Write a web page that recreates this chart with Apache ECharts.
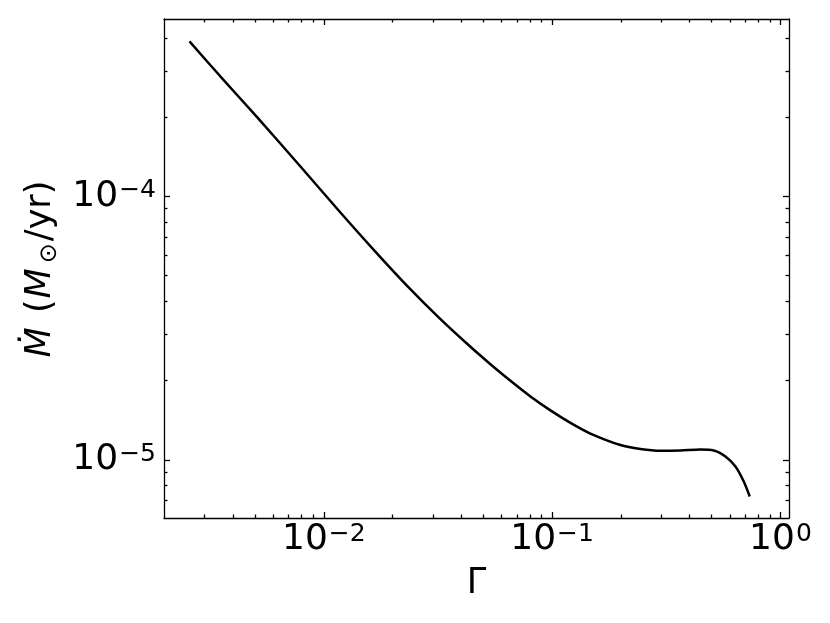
<!DOCTYPE html>
<html lang="en">

<head>
  <meta charset="UTF-8">
  <meta name="viewport" content="width=device-width, initial-scale=1.0">
  <script src="https://cdn.jsdelivr.net/npm/echarts@6.0.0/dist/echarts.min.js"></script>
  <style>
    body,
    html {
      margin: 0;
      padding: 0;
      width: 100%;
      height: 100%;
      background: #ffffff;
      overflow: hidden;
    }

    #main {
      width: 830px;
      height: 623px;
    }
  </style>
</head>

<body>
  <div id="main"></div>
  <script type="text/javascript">
    // Eddington factor vs mass-loss rate
    const gamma = [0.00258, 0.00352, 0.0051, 0.0079, 0.01182, 0.01654, 0.02317, 0.03242, 0.04386, 0.05366, 0.06567,
      0.08034, 0.09829, 0.1203, 0.1471, 0.1991, 0.2436, 0.298, 0.3648, 0.4462, 0.5104, 0.5742, 0.6353, 0.6907, 0.7336];
    const mdot = [3.88e-4, 2.86e-4, 2.0e-4, 1.30e-4, 8.69e-5, 6.27e-5, 4.575e-5, 3.42e-5, 2.686e-5, 2.307e-5, 1.995e-5,
      1.74e-5, 1.54e-5, 1.381e-5, 1.258e-5, 1.138e-5, 1.099e-5, 1.082e-5, 1.085e-5, 1.094e-5, 1.085e-5, 1.029e-5, 9.43e-6, 8.27e-6, 7.25e-6];

    const xMajor = [0.01, 0.1, 1];
    const xMinor = [0.003, 0.004, 0.005, 0.006, 0.007, 0.008, 0.009,
      0.02, 0.03, 0.04, 0.05, 0.06, 0.07, 0.08, 0.09,
      0.2, 0.3, 0.4, 0.5, 0.6, 0.7, 0.8, 0.9];
    const yMajor = [1e-5, 1e-4];
    const yMinor = [7e-6, 8e-6, 9e-6, 2e-5, 3e-5, 4e-5, 5e-5, 6e-5, 7e-5, 8e-5, 9e-5, 2e-4, 3e-4, 4e-4];

    const xRange = [0.001995, 1.09];
    const yRange = [6.01e-6, 4.72e-4];

    var myChart = echarts.init(document.getElementById('main'));

    const font = 'DejaVu Sans';
    const lineStyle = { color: '#000', width: 1.3 };

    function powLabel(v) {
      const e = Math.round(Math.log10(v));
      return '{m|10}{e|' + (e < 0 ? '\u2212' + (-e) : e) + '}';
    }
    const labelRich = {
      m: { fontSize: 36, fontFamily: font, color: '#000' },
      e: { fontSize: 25, fontFamily: font, color: '#000', verticalAlign: 'top', padding: [0, 0, 0, 1] }
    };

    function makeAxis(range, pos, ticks, len, main) {
      return {
        type: 'log',
        logBase: 10,
        min: range[0],
        max: range[1],
        position: pos,
        axisLine: { show: main !== undefined, onZero: false, lineStyle: lineStyle },
        axisTick: { show: true, inside: true, length: len, customValues: ticks, lineStyle: lineStyle },
        minorTick: { show: false },
        splitLine: { show: false },
        axisLabel: { show: false }
      };
    }

    const xAxes = [
      makeAxis(xRange, 'bottom', xMajor, 6, true),
      makeAxis(xRange, 'bottom', xMinor, 3.5),
      makeAxis(xRange, 'top', xMajor, 6, true),
      makeAxis(xRange, 'top', xMinor, 3.5)
    ];
    xAxes[0].axisLabel = { show: true, customValues: xMajor, margin: 4, formatter: powLabel, rich: labelRich };
    xAxes[0].name = 'Γ';
    xAxes[0].nameLocation = 'middle';
    xAxes[0].nameGap = 48;
    xAxes[0].nameTextStyle = { fontSize: 35, fontFamily: font, color: '#000' };

    const yAxes = [
      makeAxis(yRange, 'left', yMajor, 6, true),
      makeAxis(yRange, 'left', yMinor, 3.5),
      makeAxis(yRange, 'right', yMajor, 6, true),
      makeAxis(yRange, 'right', yMinor, 3.5)
    ];
    yAxes[0].axisLabel = { show: true, customValues: yMajor, margin: 8, formatter: powLabel, rich: labelRich };
    yAxes[0].name = '{i|Ṁ}{t| (}{i|M}{s|⊙}{t|/yr)}';
    yAxes[0].nameLocation = 'middle';
    yAxes[0].nameGap = 101;
    yAxes[0].nameTextStyle = {
      fontSize: 35, fontFamily: font, color: '#000', lineHeight: 42,
      rich: {
        i: { fontSize: 35, fontFamily: font, fontStyle: 'italic', color: '#000', lineHeight: 42, padding: [0, 2, 0, 0] },
        t: { fontSize: 35, fontFamily: font, color: '#000', lineHeight: 42, padding: [0, 1, 0, 1] },
        s: { fontSize: 24, fontFamily: font, color: '#000', lineHeight: 30, verticalAlign: 'bottom', padding: [0, 1, 0, 3] }
      }
    };

    const option = {
      backgroundColor: '#fff',
      animation: false,
      grid: { left: 164, top: 19, right: 41, bottom: 105 },
      xAxis: xAxes,
      yAxis: yAxes,
      series: [{
        type: 'line',
        xAxisIndex: 0,
        yAxisIndex: 0,
        data: gamma.map((g, i) => [g, mdot[i]]),
        showSymbol: false,
        smooth: 0.3,
        lineStyle: { color: '#000', width: 2.5 }
      }]
    };

    myChart.setOption(option);
  </script>
</body>

</html>
